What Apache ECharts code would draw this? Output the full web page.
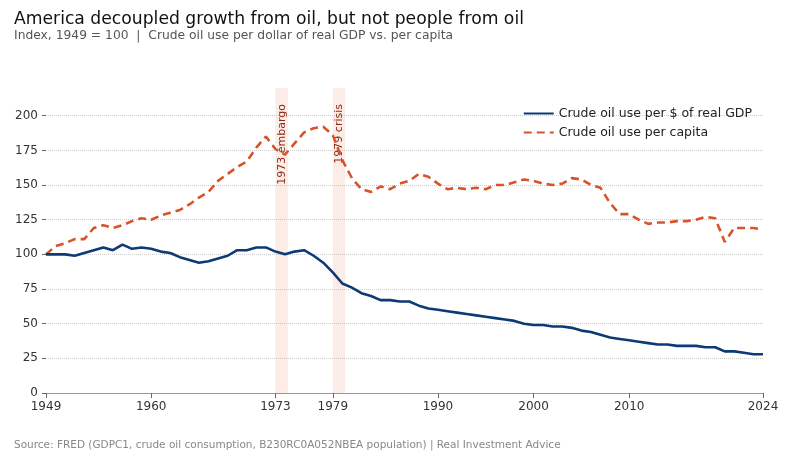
<!DOCTYPE html>
<html>
<head>
<meta charset="utf-8">
<script src="https://cdn.jsdelivr.net/npm/echarts@6/dist/echarts.min.js"></script>
<style>html,body{margin:0;padding:0;background:#fff}#c{width:787px;height:455px}</style>
</head>
<body>
<div id="c"></div>
<script>
var years = [];
for (var y = 1949; y <= 2024; y++) years.push(y);

// indice, 1949 = 100
var perGdp = [100,100,100,99,101,103,105,103,107,104,105,104,102,101,98,96,94,95,97,99,103,103,105,105,102,100,102,103,99,94,87,79,76,72,70,67,67,66,66,63,61,60,59,58,57,56,55,54,53,52,50,49,49,48,48,47,45,44,42,40,39,38,37,36,35,35,34,34,34,33,33,30,30,29,28,28];
var perCapita = [100,106,108,111,111,119,121,119,121,124,126,125,128,130,132,136,141,145,153,158,163,167,177,185,176,172,180,188,191,192,186,168,155,147,145,149,147,151,153,158,156,151,147,148,147,148,147,150,150,152,154,153,151,150,151,155,154,150,148,137,129,129,125,122,123,123,124,124,125,127,126,109,119,119,119,118];
var tickYears = [1949,1960,1973,1979,1990,2000,2010,2024];
var bands = [[1973, 1974.3, '1973 embargo'], [1979, 1980.3, '1979 crisis']];

function pairs(vals) { return years.map(function (yr, i) { return [yr, vals[i]]; }); }

var myChart = echarts.init(document.getElementById('c'));
var option = {
    backgroundColor: '#fff',
    animation: false,
    title: [
        { text: 'America decoupled growth from oil, but not people from oil', left: 9, top: 6,
          textStyle: { fontFamily: 'DejaVu Sans', fontSize: 17.2, fontWeight: 'normal', color: '#111' } },
        { text: 'Index, 1949 = 100  |  Crude oil use per dollar of real GDP vs. per capita', left: 9, top: 25,
          textStyle: { fontFamily: 'DejaVu Sans', fontSize: 12.3, fontWeight: 'normal', color: '#555' } },
        { text: 'Source: FRED (GDPC1, crude oil consumption, B230RC0A052NBEA population) | Real Investment Advice', left: 9, top: 435,
          textStyle: { fontFamily: 'DejaVu Sans', fontSize: 10.5, fontWeight: 'normal', color: '#888' } }
    ],
    legend: {
        orient: 'vertical', right: 30, top: 102, itemWidth: 30, itemHeight: 10, itemGap: 6,
        itemStyle: { opacity: 0 },
        textStyle: { fontFamily: 'DejaVu Sans', fontSize: 12.5, color: '#222' },
        data: ['Crude oil use per $ of real GDP', 'Crude oil use per capita']
    },
    grid: { left: 46, right: 24, top: 88, bottom: 62 },
    xAxis: {
        type: 'value', min: 1949, max: 2024,
        splitLine: { show: false },
        axisLine: { lineStyle: { color: '#999' } },
        axisTick: { customValues: tickYears, lineStyle: { color: '#666' } },
        axisLabel: { customValues: tickYears, color: '#333', fontFamily: 'DejaVu Sans', fontSize: 12,
                     formatter: function (v) { return String(v); } }
    },
    yAxis: {
        type: 'value', min: 0, max: 220, interval: 25,
        axisLine: { show: false },
        axisTick: { show: true, length: 4, lineStyle: { color: '#666' } },
        axisLabel: { color: '#333', fontFamily: 'DejaVu Sans', fontSize: 12, showMaxLabel: false },
        splitLine: { showMaxLine: false, lineStyle: { color: '#ccc', type: 'dotted' } }
    },
    series: [
        {
            name: 'Crude oil use per $ of real GDP', type: 'line', data: pairs(perGdp),
            showSymbol: false, symbol: 'none', lineStyle: { color: '#0b3a75', width: 2.6 },
            itemStyle: { color: '#0b3a75' }, z: 5,
            markArea: {
                silent: true,
                itemStyle: { color: 'rgba(240,170,150,0.22)' },
                label: { show: true, position: 'insideTop', rotate: 90, align: 'right', verticalAlign: 'middle',
                         distance: 16, color: '#8a2a10', fontFamily: 'DejaVu Sans', fontSize: 11 },
                data: bands.map(function (b) { return [{ xAxis: b[0], name: b[2] }, { xAxis: b[1] }]; })
            }
        },
        {
            name: 'Crude oil use per capita', type: 'line', data: pairs(perCapita),
            showSymbol: false, symbol: 'none', lineStyle: { color: '#d9532a', width: 2.6, type: [8, 5] },
            itemStyle: { color: '#d9532a' }, z: 4
        }
    ]
};
myChart.setOption(option);
</script>
</body>
</html>
